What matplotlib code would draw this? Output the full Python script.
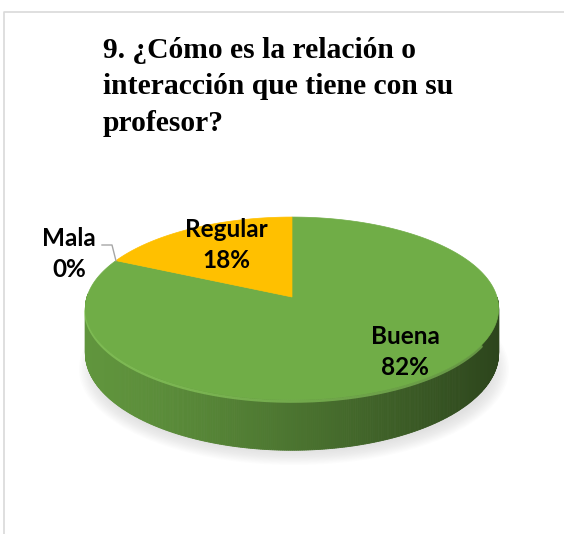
import numpy as np
import matplotlib.pyplot as plt
from matplotlib.patches import Polygon, Ellipse

# Data
categories = ['Buena', 'Mala', 'Regular']
values = [82, 0, 18]
colors = ['#70AD47', '#A5A5A5', '#FFC000']
title = '9. ¿Cómo es la relación o\ninteracción que tiene con su\nprofesor?'

# Figure set up in pixel units
W, H = 564, 534
fig = plt.figure(figsize=(W / 100, H / 100), dpi=100)
ax = fig.add_axes([0, 0, 1, 1])
ax.set_xlim(0, W)
ax.set_ylim(H, 0)
ax.axis('off')

# chart frame (top and left edge visible)
ax.plot([4, 4, W], [H, 12, 12], color='#d9d9d9', lw=1.2)

# pie geometry (simple perspective: back of the disc shrinks)
cx, cy = 292, 297
sx, sy = 205, 90
k = 0.1257
depth = 44


def pt(theta, drop=0.0):
    t = np.radians(theta)
    X, Y = np.cos(t), np.sin(t)
    d = 1 + k * Y
    return cx + sx * X / d, cy - sy * Y / d + drop / d


# soft shadow under the pie
for i in range(12):
    ax.add_patch(Ellipse((cx + 2, cy + 72), 2 * (sx + 10 - i * 1.5),
                         2 * (sy + 6 - i * 1.3), color='#c0c0c0', alpha=0.045,
                         lw=0, zorder=1))

# wedge angles: start at 12 o'clock, clockwise
total = sum(values)
fracs = np.array(values) / total
ends = 90 - 360 * np.cumsum(fracs)
starts = np.concatenate([[90], ends[:-1]])


def rgb(c):
    c = c.lstrip('#')
    return np.array([int(c[i:i + 2], 16) for i in (0, 2, 4)]) / 255


# side walls (front half only)
for s, e, col in zip(starts, ends, colors):
    if s == e:
        continue
    th = np.linspace(s, e, 600)
    base = rgb(col)
    for a0, a1 in zip(th[:-1], th[1:]):
        mid = np.mod((a0 + a1) / 2, 360)
        if not (178 <= mid <= 362):
            continue
        x0, y0 = pt(a0)
        x1, y1 = pt(a1)
        _, b0 = pt(a0, depth)
        _, b1 = pt(a1, depth)
        tpos = np.clip(((x0 + x1) / 2 - (cx - sx)) / (2 * sx), 0, 1)
        shade = np.clip(base * (0.86 - 0.46 * tpos ** 1.3), 0, 1)
        ax.add_patch(Polygon([(x0, y0), (x1, y1), (x1, b1), (x0, b0)],
                             closed=True, color=shade, lw=0.6, zorder=2))

# light rim along the front edge
th = np.linspace(188, 330, 200)
xs, ys = pt(th)
ax.plot(xs, ys + 1.5, color='#9be06a', lw=2.0, alpha=0.5, zorder=3,
        solid_capstyle='round')

# top faces
for s, e, col in zip(starts, ends, colors):
    if s == e:
        continue
    th = np.linspace(s, e, 300)
    xs, ys = pt(th)
    verts = [(cx, cy)] + list(zip(xs, ys))
    ax.add_patch(Polygon(verts, closed=True, color=col, lw=0.5, zorder=4))

# labels
lab = dict(ha='center', va='center', fontsize=17.5, fontweight='bold',
           family='Lato', linespacing=1.42, zorder=6)
ax.text(405, 352, f'{categories[0]}\n{values[0]}%', **lab)
ax.text(226, 245, f'{categories[2]}\n{values[2]}%', **lab)
ax.text(69, 254, f'{categories[1]}\n{values[1]}%', **lab)

# leader line for Mala
mx, my = pt(starts[1])
ax.plot([102, 112, mx], [245, 245, my], color='#a6a6a6', lw=1, zorder=5)

# title
ax.text(103, 37, title, ha='left', va='top', fontsize=21.3, fontweight='bold',
        family='Liberation Serif', linespacing=1.45)

plt.savefig('out.png', dpi=100)
